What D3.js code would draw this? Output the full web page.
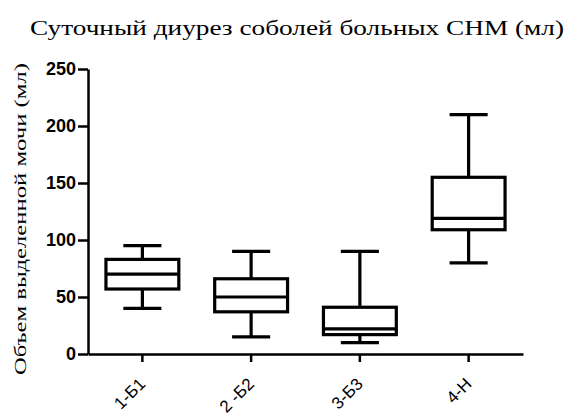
<!DOCTYPE html>
<html>
<head>
<meta charset="utf-8">
<script src="https://cdn.jsdelivr.net/npm/d3@7"></script>
<style>
  html, body { margin: 0; padding: 0; background: #fff; }
  svg { display: block; }
</style>
</head>
<body>
<svg id="chart" width="569" height="415"></svg>
<script>
// Daily diuresis per group: whisker ends, quartiles and median (ml)
const categories = ["1-Б1", "2 -Б2", "3-Б3", "4-Н"];
const whiskerLow  = [40, 15, 10, 80];
const q1          = [57, 37, 17, 109];
const median      = [70, 50, 22, 119];
const q3          = [83, 66, 41, 155];
const whiskerHigh = [95, 90, 90, 210];
const yTicks      = [0, 50, 100, 150, 200, 250];

const groups = categories.map((c, i) => ({
  name: c, lo: whiskerLow[i], q1: q1[i], med: median[i], q3: q3[i], hi: whiskerHigh[i]
}));

const svg = d3.select("#chart");
const plotLeft = 88, plotRight = 523, plotTop = 69, plotBottom = 354;

const x = d3.scaleBand().domain(categories).range([plotLeft, plotRight]).padding(0);
const y = d3.scaleLinear().domain([0, 250]).range([plotBottom, plotTop]);

// Title
svg.append("text")
  .attr("x", 297).attr("y", 35)
  .attr("text-anchor", "middle")
  .attr("font-family", "'Liberation Serif', 'Times New Roman', serif")
  .attr("font-size", 22)
  .attr("textLength", 534)
  .attr("lengthAdjust", "spacingAndGlyphs")
  .text("Суточный диурез соболей больных СНМ (мл)");

// Y axis title
svg.append("text")
  .attr("transform", "translate(26,219) rotate(-90)")
  .attr("text-anchor", "middle")
  .attr("font-family", "'Liberation Serif', 'Times New Roman', serif")
  .attr("font-size", 17)
  .attr("textLength", 312)
  .attr("lengthAdjust", "spacingAndGlyphs")
  .text("Объем выделенной мочи (мл)");

// Y axis
const yAxis = svg.append("g")
  .attr("transform", `translate(${plotLeft},0)`)
  .call(d3.axisLeft(y).tickValues(yTicks).tickSize(10).tickPadding(2).tickSizeOuter(0));
yAxis.select(".domain").attr("stroke", "#000").attr("stroke-width", 2.5);
yAxis.selectAll(".tick line").attr("stroke", "#000").attr("stroke-width", 2.5);
yAxis.selectAll(".tick text")
  .attr("font-family", "Arial, 'Liberation Sans', sans-serif")
  .attr("font-weight", "bold")
  .attr("font-size", 18)
  .attr("fill", "#000");

// X axis
const xAxis = svg.append("g")
  .attr("transform", `translate(0,${plotBottom})`)
  .call(d3.axisBottom(x).tickSize(8).tickSizeOuter(0));
xAxis.select(".domain").attr("stroke", "#000").attr("stroke-width", 2.5);
xAxis.selectAll(".tick line").attr("stroke", "#000").attr("stroke-width", 2.5);
xAxis.selectAll(".tick text")
  .attr("font-family", "Arial, 'Liberation Sans', sans-serif")
  .attr("font-size", 17)
  .attr("fill", "#000")
  .attr("text-anchor", "end")
  .attr("x", 0).attr("y", 0).attr("dy", null)
  .attr("transform", "translate(4,31) rotate(-45)");

// Box plots
const bw = x.bandwidth();
const boxW = bw * 0.67;
const capW = bw * 0.35;
const g = svg.append("g").attr("fill", "none").attr("stroke", "#000").attr("stroke-width", 3.2);

const box = g.selectAll("g.box").data(groups).join("g").attr("class", "box")
  .attr("transform", d => `translate(${x(d.name) + bw / 2},0)`);

// whiskers
box.append("line").attr("x1", 0).attr("x2", 0).attr("y1", d => y(d.hi)).attr("y2", d => y(d.q3));
box.append("line").attr("x1", 0).attr("x2", 0).attr("y1", d => y(d.q1)).attr("y2", d => y(d.lo));
// caps
box.append("line").attr("x1", -capW / 2).attr("x2", capW / 2).attr("y1", d => y(d.hi)).attr("y2", d => y(d.hi));
box.append("line").attr("x1", -capW / 2).attr("x2", capW / 2).attr("y1", d => y(d.lo)).attr("y2", d => y(d.lo));
// box
box.append("rect")
  .attr("x", -boxW / 2).attr("width", boxW)
  .attr("y", d => y(d.q3)).attr("height", d => y(d.q1) - y(d.q3));
// median
box.append("line").attr("x1", -boxW / 2).attr("x2", boxW / 2).attr("y1", d => y(d.med)).attr("y2", d => y(d.med));
</script>
</body>
</html>
